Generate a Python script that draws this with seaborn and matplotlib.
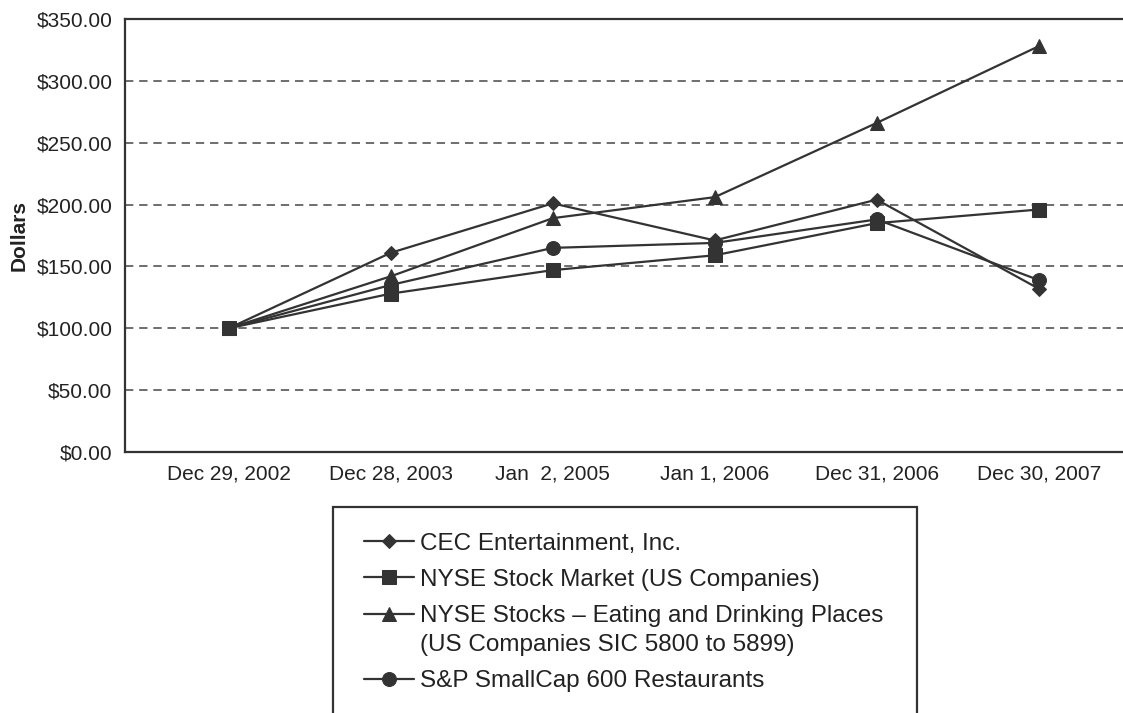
import pandas as pd
import matplotlib
matplotlib.use('Agg')
import matplotlib.pyplot as plt
from matplotlib.patches import Rectangle
from matplotlib.ticker import FuncFormatter, FixedLocator
from matplotlib.legend_handler import HandlerLine2D
import seaborn as sns

# Data
dates = ['Dec 29, 2002', 'Dec 28, 2003', 'Jan  2, 2005', 'Jan 1, 2006', 'Dec 31, 2006', 'Dec 30, 2007']
cec = [100, 161, 201, 171, 204, 132]
nyse_market = [100, 128, 147, 159, 185, 196]
nyse_eating = [100, 142, 189, 206, 266, 328]
sp600_rest = [100, 135, 165, 169, 188, 139]

series_names = ['CEC Entertainment, Inc.',
                'NYSE Stock Market (US Companies)',
                'NYSE Stocks \u2013 Eating and Drinking Places\n(US Companies SIC 5800 to 5899)',
                'S&P SmallCap 600 Restaurants']
series_values = [cec, nyse_market, nyse_eating, sp600_rest]

# Long form table for seaborn
rows = []
for name, vals in zip(series_names, series_values):
    for i, v in enumerate(vals):
        rows.append({'x': i, 'value': v, 'series': name})
df = pd.DataFrame(rows)

sns.set_style('white')
plt.rcParams['font.family'] = ['Liberation Sans', 'DejaVu Sans']

ink = '#333333'
txt = '#222222'
fig = plt.figure(figsize=(11.23, 7.13), dpi=100)
ax = fig.add_axes([125 / 1123, 1 - 452 / 713, 1 - 125 / 1123, (452 - 19) / 713])

markers = dict(zip(series_names, ['D', 's', '^', 'o']))
palette = {n: ink for n in series_names}

sns.lineplot(data=df, x='x', y='value', hue='series', style='series',
             markers=markers, dashes=False, palette=palette, linewidth=1.6,
             markersize=10, markeredgecolor=ink, ax=ax, legend=True)

# shrink the diamond a bit
for line in ax.lines:
    if line.get_marker() == 'D':
        line.set_markersize(7.5)

ax.set_xlim(-0.64, 5.52)
ax.set_ylim(0, 350)
ax.set_yticks(range(0, 351, 50))
ax.yaxis.set_major_formatter(FuncFormatter(lambda v, p: f'${v:,.2f}'))
ax.set_xticks(range(len(dates)))
ax.set_xticklabels(dates)
ax.xaxis.set_minor_locator(FixedLocator([0.5, 1.5, 2.5, 3.5, 4.5, 5.5]))
ax.tick_params(axis='x', which='major', length=0, pad=9, labelsize=15, colors=txt)
ax.tick_params(axis='x', which='minor', length=9, width=1.2, color=ink, direction='out')
ax.tick_params(axis='y', which='major', length=6, width=1.2, direction='out',
               labelsize=15, pad=3, colors=txt)
ax.tick_params(axis='y', color=ink)

for val in range(50, 301, 50):
    ax.axhline(val, color='#555555', linestyle=(0, (5, 3.5)), linewidth=1.2, zorder=0)

for side in ['left', 'bottom', 'top']:
    ax.spines[side].set_color(ink)
    ax.spines[side].set_linewidth(1.6)
ax.spines['right'].set_visible(False)

ax.set_xlabel('')
ax.set_ylabel('Dollars', fontsize=15, fontweight='bold', color=txt, labelpad=6)


# handle for the two-line entry sits next to its first line
class RaisedHandler(HandlerLine2D):
    def __init__(self, dy, **kw):
        super().__init__(**kw)
        self.dy = dy

    def create_artists(self, legend, orig_handle, xdescent, ydescent, width, height,
                       fontsize, trans):
        artists = super().create_artists(legend, orig_handle, xdescent, ydescent,
                                         width, height, fontsize, trans)
        for a in artists:
            a.set_ydata([y + self.dy for y in a.get_ydata()])
        return artists


# Legend below the plot, in a box cut off by the bottom edge
handles, labels = ax.get_legend_handles_labels()
ax.get_legend().remove()
leg = fig.legend(handles, labels, loc='upper left',
                 bbox_to_anchor=(342 / 1123, 1 - 511 / 713), frameon=False,
                 fontsize=17.5, handlelength=2.05, handletextpad=0.25, labelspacing=0.57,
                 labelcolor=txt, handler_map={handles[2]: RaisedHandler(11.5)})
for t in leg.get_texts():
    t.set_linespacing(1.45)
fig.patches.append(Rectangle((333 / 1123, -0.05), (917 - 333) / 1123, 0.05 + (713 - 507) / 713,
                             transform=fig.transFigure, fill=False, edgecolor=ink,
                             linewidth=1.6))

fig.savefig('out.png', dpi=100)
